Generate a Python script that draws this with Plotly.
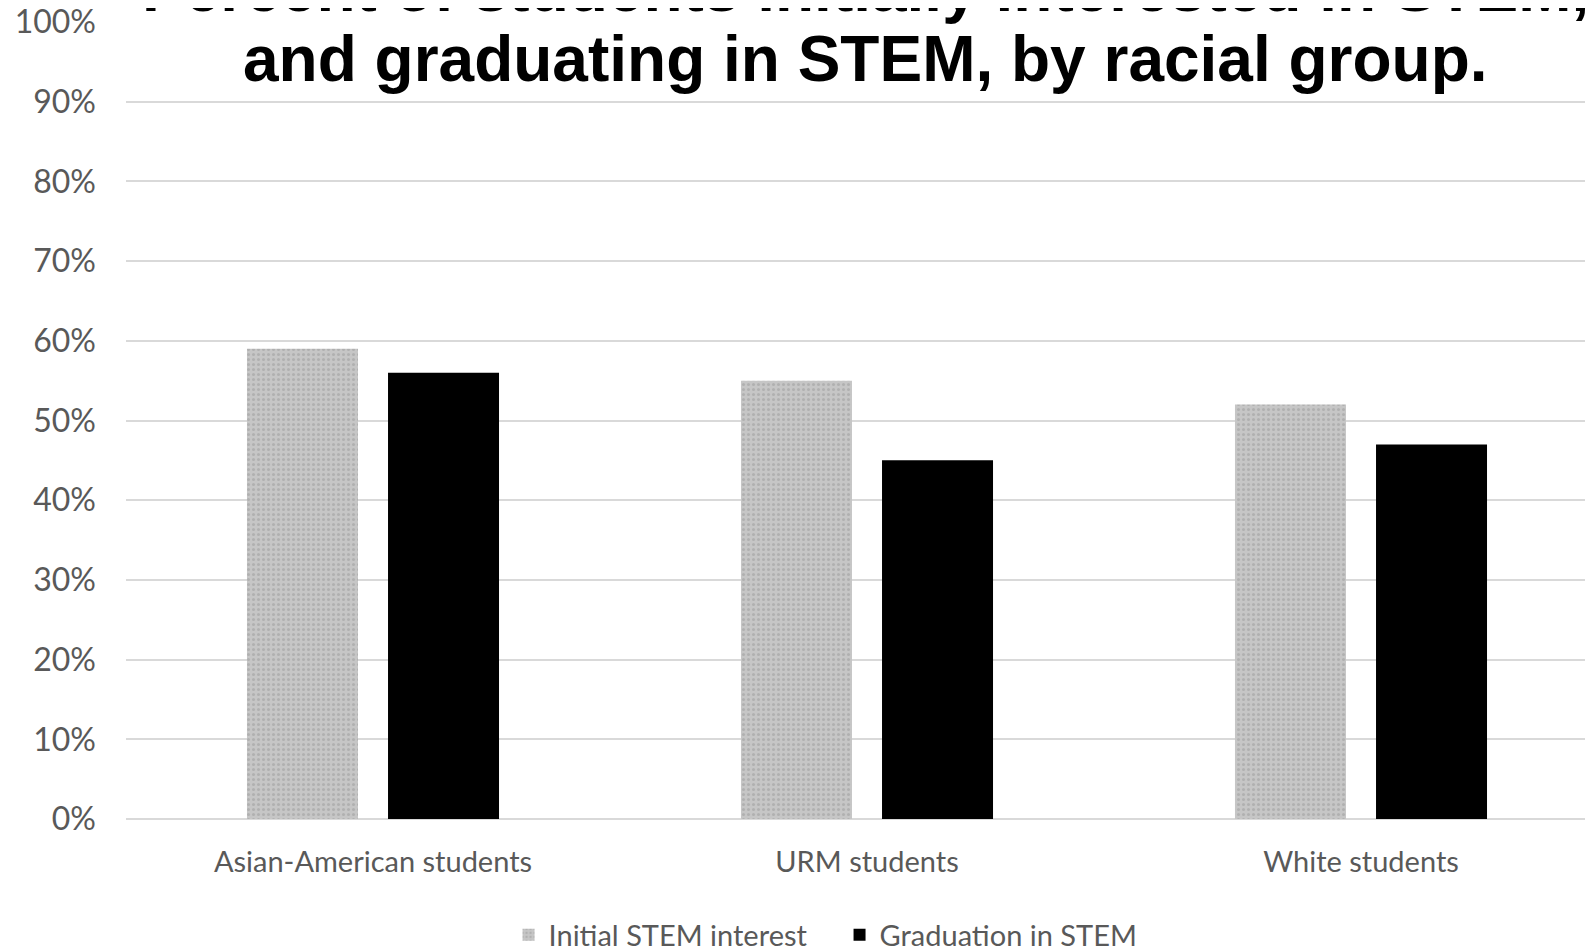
import plotly.graph_objects as go

categories = ["Asian-American students", "URM students", "White students"]
initial_interest = [0.59, 0.55, 0.52]
graduation = [0.56, 0.45, 0.47]
series_names = ["Initial STEM interest", "Graduation in STEM"]
title_line1 = "Percent of students initially interested in STEM,"
title_line2 = "and graduating in STEM, by racial group."

W, H = 1593, 950
OFF = 8  # page offset of the figure inside the browser window
ML, MR, MT, MB = 126 - OFF, 0, 22 - OFF, 131 + OFF
PH = H - MT - MB
PW = W - ML - MR

fig = go.Figure()
fig.add_trace(go.Bar(
    name=series_names[0], x=categories, y=initial_interest,
    marker=dict(color="#c2c2c2", line=dict(width=0),
                pattern=dict(shape=".", size=5, solidity=0.3, fgcolor="#9a9a9a", bgcolor="#c6c6c6")),
))
fig.add_trace(go.Bar(
    name=series_names[1], x=categories, y=graduation,
    marker=dict(color="#000000", line=dict(width=0)),
))

font_fam = "Lato, 'Open Sans', sans-serif"

fig.update_layout(
    template="plotly",
    width=W, height=H,
    margin=dict(l=ML, r=MR, t=MT, b=MB, pad=0, autoexpand=False),
    paper_bgcolor="white", plot_bgcolor="white",
    barmode="group", bargap=0.429, bargroupgap=0.213,
    showlegend=True,
    legend=dict(orientation="h", xref="container", yref="container",
                x=0.522, xanchor="center", y=1 - (935 - OFF) / H, yanchor="middle",
                font=dict(family=font_fam, size=29, color="#595959"),
                itemwidth=30, traceorder="normal", entrywidth=286),
    xaxis=dict(range=[-0.5, -0.5 + PW / 494], showgrid=False, showline=False, zeroline=False,
               tickfont=dict(family=font_fam, size=29, color="#595959"),
               ticks="", ticklabelstandoff=23, automargin=False, ticklabeloverflow="allow"),
    yaxis=dict(range=[0, 1], dtick=0.1, tickformat=".0%",
               tickfont=dict(family=font_fam, size=32, color="#595959"),
               showgrid=True, gridcolor="#d9d9d9", gridwidth=2,
               zeroline=True, zerolinecolor="#d9d9d9", zerolinewidth=2,
               showline=False, ticks="", ticklabelstandoff=29, automargin=False,
               ticklabeloverflow="allow"),
    annotations=[
        dict(text="<b>" + title_line1 + "</b>", xref="paper", yref="paper",
             x=(865 - OFF - ML) / PW, y=1 - (27 - OFF - MT) / PH,
             xanchor="center", yanchor="bottom", showarrow=False,
             font=dict(family="Liberation Sans, Arial, sans-serif", size=64, color="#000000")),
        dict(text="<b>" + title_line2 + "</b>", xref="paper", yref="paper",
             x=(865 - OFF - ML) / PW, y=1 - (97 - OFF - MT) / PH,
             xanchor="center", yanchor="bottom", showarrow=False,
             font=dict(family="Liberation Sans, Arial, sans-serif", size=64, color="#000000")),
    ],
)

fig.write_html("out.html")
